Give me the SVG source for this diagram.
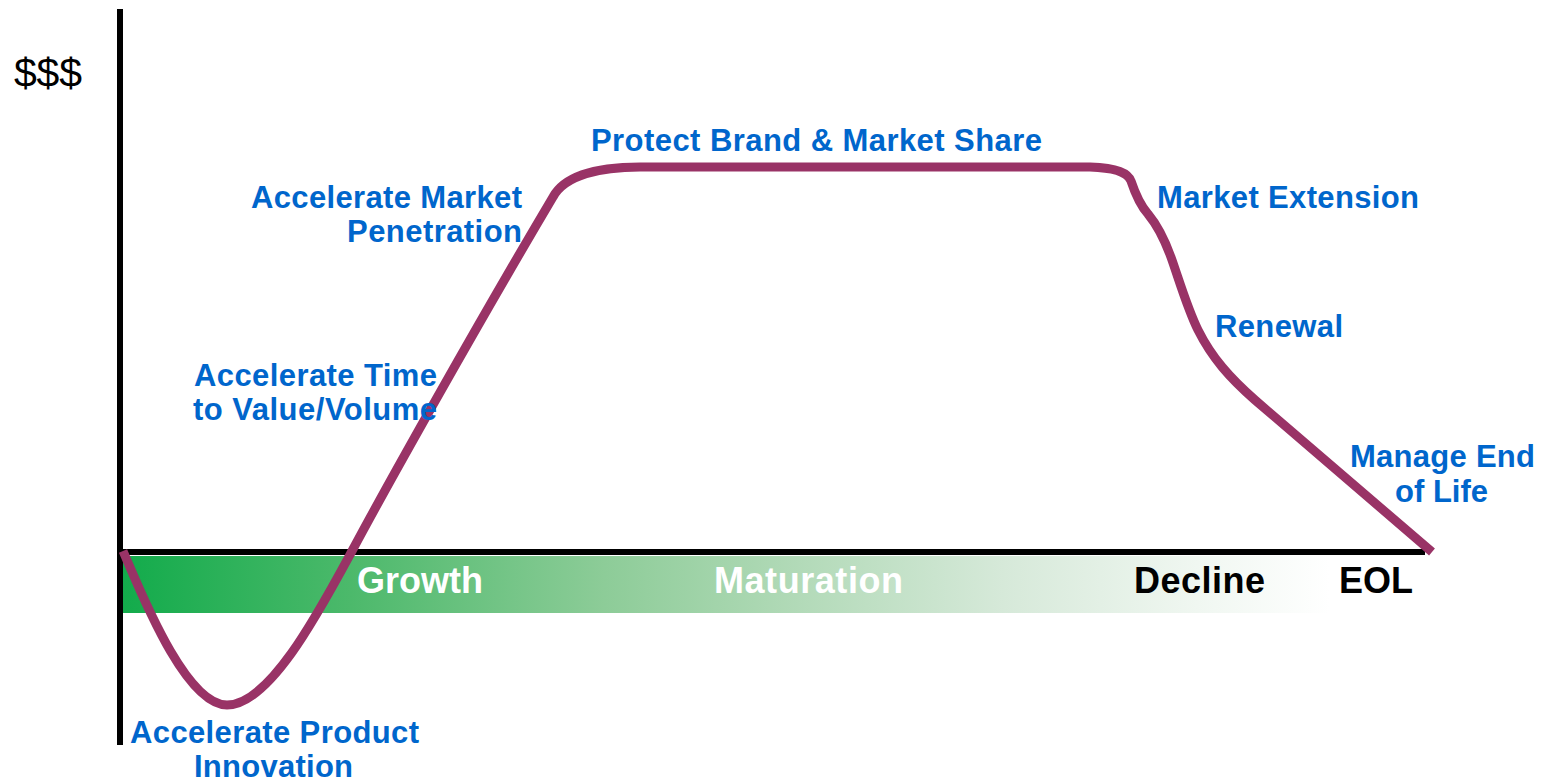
<svg xmlns="http://www.w3.org/2000/svg" width="1547" height="782" viewBox="0 0 1547 782">
  <style>
    .lbl { font-family: "Liberation Sans", Arial, sans-serif; font-weight: bold; font-size: 31px; fill: #0066cc; }
    .phase { font-family: "Liberation Sans", Arial, sans-serif; font-weight: bold; font-size: 36px; }
    .axis { fill: #000000; }
    .curve { fill: none; stroke: #993366; stroke-width: 9; stroke-linejoin: round; stroke-linecap: butt; }
  </style>
  <defs>
    <linearGradient id="bandGrad" x1="121" y1="0" x2="1330" y2="0" gradientUnits="userSpaceOnUse">
      <stop offset="0" stop-color="#12ab4b"/>
      <stop offset="0.19" stop-color="#4cb96b"/>
      <stop offset="0.4" stop-color="#8dcc98"/>
      <stop offset="0.56" stop-color="#b2dab8"/>
      <stop offset="0.73" stop-color="#d6e9d9"/>
      <stop offset="0.89" stop-color="#f0f7f1"/>
      <stop offset="1" stop-color="#ffffff"/>
    </linearGradient>
  </defs>
  <rect width="1547" height="782" fill="#ffffff"/>

  <g id="phase-band">
    <rect x="121" y="556" width="1209" height="57" fill="url(#bandGrad)"/>
  </g>

  <g id="axes">
    <rect class="axis" x="117" y="9" width="6" height="736"/>
    <rect class="axis" x="117" y="549" width="1308" height="6"/>
    <text x="14" y="87" font-family="Liberation Sans, Arial, sans-serif" font-size="41" fill="#000000" textLength="68">$$$</text>
  </g>

  <g id="phase-labels">
    <text class="phase" x="357" y="593" fill="#ffffff" textLength="126">Growth</text>
    <text class="phase" x="714" y="593" fill="#ffffff" textLength="189">Maturation</text>
    <text class="phase" x="1134" y="593" fill="#000000" textLength="131">Decline</text>
    <text class="phase" x="1339" y="593" fill="#000000" textLength="74">EOL</text>
  </g>

  <g id="connectors">
    <path class="curve" d="M 123,551 C 140,590 185,705 227,705 C 270,705 320,610 352,551 C 390,480 480,320 553,197 C 565,175 600,167 640,167 L 1090,167 C 1118,168 1128,173 1131,181 C 1135,193 1140,205 1148,214 C 1158,226 1165,240 1172,260 C 1180,283 1188,310 1198,330 C 1212,358 1230,378 1255,400 L 1432,552"/>
  </g>

  <g id="node-innovation">
    <text class="lbl" x="130" y="743" textLength="289">Accelerate Product</text>
    <text class="lbl" x="194" y="777" textLength="159">Innovation</text>
  </g>
  <g id="node-time-to-value">
    <text class="lbl" x="194" y="386" textLength="243">Accelerate Time</text>
    <text class="lbl" x="193" y="420" textLength="244">to Value/Volume</text>
  </g>
  <g id="node-penetration">
    <text class="lbl" x="251" y="208" textLength="271">Accelerate Market</text>
    <text class="lbl" x="347" y="242" textLength="175">Penetration</text>
  </g>
  <g id="node-protect">
    <text class="lbl" x="591" y="151" textLength="451">Protect Brand &amp; Market Share</text>
  </g>
  <g id="node-extension">
    <text class="lbl" x="1157" y="208" textLength="262">Market Extension</text>
  </g>
  <g id="node-renewal">
    <text class="lbl" x="1215" y="337" textLength="128">Renewal</text>
  </g>
  <g id="node-end-of-life">
    <text class="lbl" x="1350" y="467" textLength="185">Manage End</text>
    <text class="lbl" x="1395" y="502" textLength="93">of Life</text>
  </g>
</svg>
